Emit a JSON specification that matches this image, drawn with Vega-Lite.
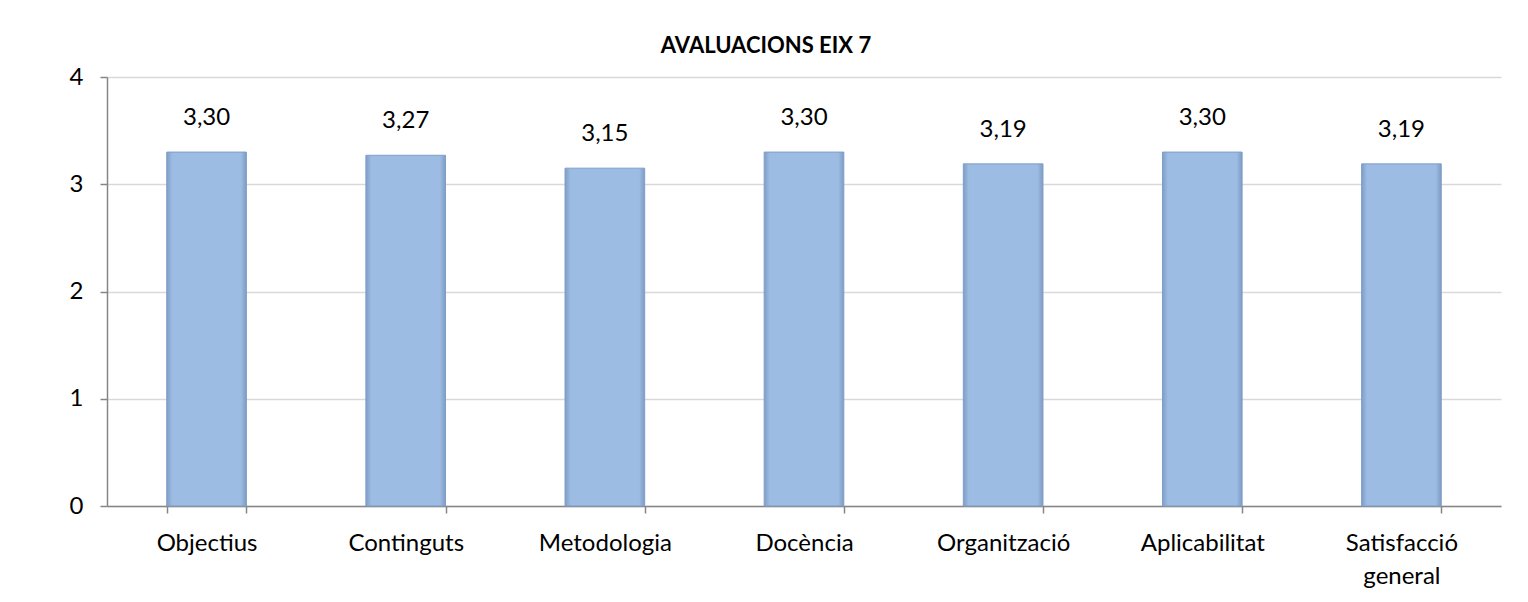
{
  "$schema": "https://vega.github.io/schema/vega-lite/v6.json",
  "width": 1394,
  "height": 429,
  "autosize": {"type": "none"},
  "padding": {"left": 107, "top": 77, "right": 27, "bottom": 96},
  "background": "white",
  "config": {
    "font": "Lato",
    "view": {"stroke": null},
    "locale": {"number": {"decimal": ",", "thousands": ".", "grouping": [3], "currency": ["", " €"]}}
  },
  "title": {
    "text": "AVALUACIONS EIX 7",
    "font": "Lato",
    "fontSize": 22,
    "fontWeight": "bold",
    "color": "#000000",
    "anchor": "middle",
    "dx": -38,
    "offset": 7
  },
  "data": {
    "values": [
      {"categoria": "Objectius", "valor": 3.30},
      {"categoria": "Continguts", "valor": 3.27},
      {"categoria": "Metodologia", "valor": 3.15},
      {"categoria": "Docència", "valor": 3.30},
      {"categoria": "Organització", "valor": 3.19},
      {"categoria": "Aplicabilitat", "valor": 3.30},
      {"categoria": "Satisfacció general", "valor": 3.19}
    ]
  },
  "encoding": {
    "x": {
      "field": "categoria",
      "type": "nominal",
      "sort": null,
      "scale": {"paddingInner": 0.6, "paddingOuter": 0.3},
      "axis": {
        "title": null,
        "labelAngle": 0,
        "labelFont": "Lato",
        "labelFontSize": 24,
        "labelColor": "#000000",
        "labelPadding": 18,
        "labelLineHeight": 33,
        "labelExpr": "datum.value == 'Satisfacció general' ? ['Satisfacció', 'general'] : datum.value",
        "tickBand": "extent",
        "tickSize": 7,
        "tickColor": "#868686",
        "tickWidth": 1.5,
        "domainColor": "#868686",
        "domainWidth": 1.5,
        "grid": false
      }
    },
    "y": {
      "field": "valor",
      "type": "quantitative",
      "scale": {"domain": [0, 4], "nice": false},
      "axis": {
        "title": null,
        "values": [0, 1, 2, 3, 4],
        "format": "d",
        "labelFont": "Lato",
        "labelFontSize": 24,
        "labelColor": "#000000",
        "labelPadding": 17,
        "tickSize": 7,
        "tickColor": "#868686",
        "tickWidth": 1.5,
        "domainColor": "#868686",
        "domainWidth": 1.5,
        "grid": true,
        "gridColor": "#d9d9d9",
        "gridWidth": 1.5
      }
    }
  },
  "layer": [
    {
      "mark": {
        "type": "bar",
        "stroke": "#7f9ec8",
        "strokeWidth": 1,
        "fill": {
          "x1": 0, "y1": 0, "x2": 1, "y2": 0,
          "gradient": "linear",
          "stops": [
            {"offset": 0, "color": "#7f9dc6"},
            {"offset": 0.07, "color": "#9dbce3"},
            {"offset": 0.93, "color": "#9dbce3"},
            {"offset": 1, "color": "#7d9bc4"}
          ]
        }
      }
    },
    {
      "mark": {"type": "text", "baseline": "alphabetic", "dy": -27, "fontSize": 24, "font": "Lato", "color": "#000000"},
      "encoding": {"text": {"field": "valor", "type": "quantitative", "format": ".2f"}}
    }
  ]
}
